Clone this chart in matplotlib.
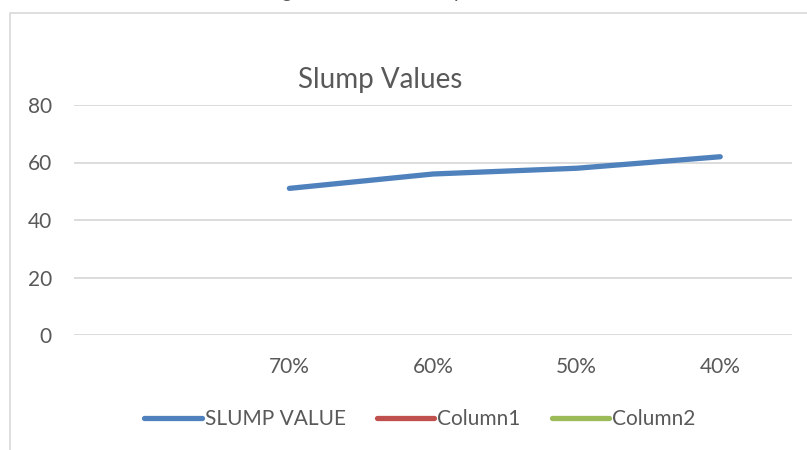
import matplotlib.pyplot as plt
from matplotlib.patches import Rectangle

# slump test results by replacement level (first category left empty)
categories = ["", "70%", "60%", "50%", "40%"]
slump_value = [None, 51, 56, 58, 62]
column1 = [None, None, None, None, None]
column2 = [None, None, None, None, None]

plt.rcParams['font.family'] = ['Lato', 'DejaVu Sans']
grey = "#595959"

fig = plt.figure(figsize=(8.07, 4.5), dpi=100)

# chart area frame (runs off the right and bottom edges)
fig.patches.append(Rectangle((10 / 807, -0.05), 1.0, 1 - 13 / 450 + 0.05,
                             transform=fig.transFigure, fill=False,
                             edgecolor="#d9d9d9", linewidth=1.2))

# bits of a heading from the page above
fig.text(286 / 807, 1 + 2 / 450, "g", fontsize=14, color=grey, ha="center", va="baseline")
fig.text(459 / 807, 1 + 2 / 450, "p", fontsize=14, color=grey, ha="center", va="baseline")

ax = fig.add_axes([74 / 807, 1 - 335 / 450, (792 - 74) / 807, (335 - 105) / 450])

x = list(range(len(categories)))
ys = [float("nan") if v is None else v for v in slump_value]
c1 = [float("nan") if v is None else v for v in column1]
c2 = [float("nan") if v is None else v for v in column2]

ax.plot(x, ys, color="#4F81BD", lw=3.8, solid_capstyle="round", label="SLUMP VALUE")
ax.plot(x, c1, color="#C0504D", lw=3.8, solid_capstyle="round", label="Column1")
ax.plot(x, c2, color="#9BBB59", lw=3.8, solid_capstyle="round", label="Column2")

ax.set_xlim(-0.5, len(categories) - 0.5)
ax.set_ylim(0, 80)
ax.set_yticks([0, 20, 40, 60, 80])
ax.set_xticks(x)
ax.set_xticklabels(categories)
ax.yaxis.grid(True, color="#d9d9d9", lw=1.3)
ax.set_axisbelow(True)
for s in ax.spines.values():
    s.set_visible(False)
ax.tick_params(axis="both", length=0, labelsize=15, labelcolor=grey)
ax.tick_params(axis="y", pad=16)
ax.tick_params(axis="x", pad=16)

fig.text(380 / 807, 1 - 80 / 450, "Slump Values", fontsize=20, color=grey,
         ha="center", va="center")

leg = fig.legend(loc="center", bbox_to_anchor=(420 / 807, 1 - 419 / 450), ncol=3,
                 frameon=False, fontsize=15, handlelength=2.75, handletextpad=0.15,
                 columnspacing=1.5, labelcolor=grey)

fig.savefig("out.png", dpi=100)
